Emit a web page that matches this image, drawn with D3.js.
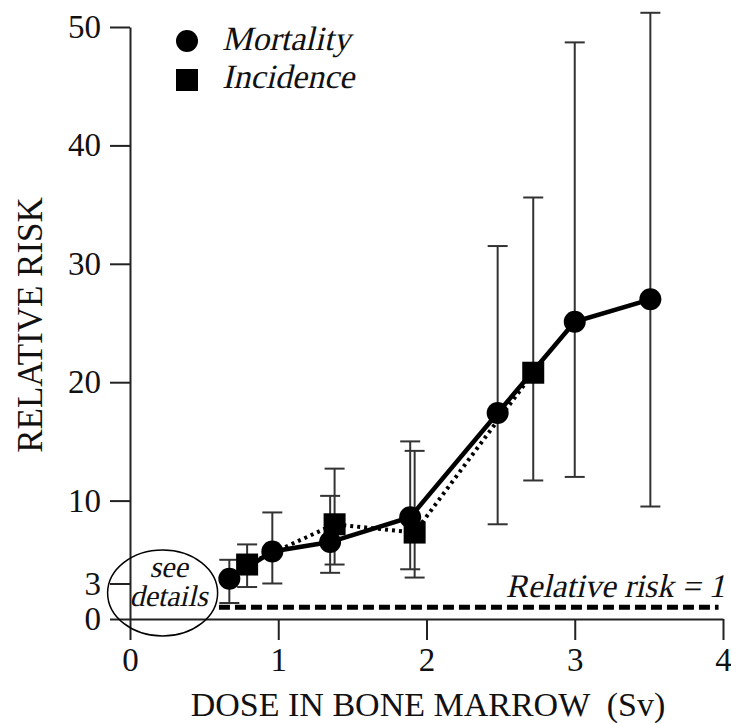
<!DOCTYPE html>
<html>
<head>
<meta charset="utf-8">
<script src="https://cdn.jsdelivr.net/npm/d3@7"></script>
<style>
  body { margin: 0; background: #fff; }
  svg { display: block; }
  text { font-family: "Liberation Serif", "DejaVu Serif", serif; fill: #111; }
</style>
</head>
<body>
<div id="chart"></div>
<script>
// Data ==================================================================
var mortDose = [0.67, 0.96, 1.35, 1.89, 2.48, 3.0, 3.51];
var mortRR   = [3.4, 5.7, 6.5, 8.6, 17.4, 25.1, 27.0];
var mortLo   = [1.35, 3.0, 3.9, 4.2, 8.0, 12.0, 9.5];
var mortHi   = [5.0, 9.0, 10.4, 15.0, 31.5, 48.7, 51.2];

var incDose = [0.79, 1.38, 1.92, 2.72];
var incRR   = [4.6, 8.0, 7.3, 20.8];
var incLo   = [2.7, 4.6, 3.5, 11.7];
var incHi   = [6.3, 12.7, 14.2, 35.6];

var xTicks = [0, 1, 2, 3, 4];
var yTicks = [0, 3, 10, 20, 30, 40, 50];

var refDose = [0.6, 3.97];
var refRR = 1;

// Setup =================================================================
var width = 731, height = 723;
var serif = '"Liberation Serif", "DejaVu Serif", serif';

var svg = d3.select("#chart").append("svg")
	.attr("width", width)
	.attr("height", height);

var x = d3.scaleLinear().domain([0, 4]).range([130, 723]);
var y = d3.scaleLinear().domain([0, 50]).range([619, 27]);

// Axes
var yAxis = svg.append("g")
	.attr("transform", "translate(" + x(0) + ",0)")
	.call(d3.axisLeft(y).tickValues(yTicks).tickSize(20).tickSizeOuter(0).tickPadding(9));

var xAxis = svg.append("g")
	.attr("transform", "translate(0," + y(0) + ")")
	.call(d3.axisBottom(x).tickValues(xTicks).tickFormat(d3.format("d")).tickSize(21).tickSizeOuter(0).tickPadding(8));

[yAxis, xAxis].forEach(function (g) {
	g.attr("font-family", serif).attr("font-size", null);
	g.selectAll("path, line").attr("stroke", "#222").attr("stroke-width", 2);
	g.selectAll("text").style("font-size", "33px").attr("fill", "#111");
});

// axis titles
svg.append("text")
	.attr("transform", "translate(42," + 325 + ") rotate(-90)")
	.attr("text-anchor", "middle")
	.attr("font-family", serif)
	.style("font-size", "35px")
	.text("RELATIVE RISK");

svg.append("text")
	.attr("x", 428)
	.attr("y", 716)
	.attr("text-anchor", "middle")
	.attr("font-family", serif)
	.style("font-size", "34px")
	.attr("xml:space", "preserve")
	.text("DOSE IN BONE MARROW  (Sv)");

// italic look: slanted serif text
function slanted(px, py, size, anchor, str) {
	return svg.append("text")
		.attr("transform", "translate(" + px + "," + py + ") skewX(-13)")
		.attr("text-anchor", anchor)
		.attr("font-family", serif)
		.style("font-size", size + "px")
		.text(str);
}

// Reference line (relative risk = 1)
svg.append("line")
	.attr("x1", x(refDose[0])).attr("x2", x(refDose[1]))
	.attr("y1", y(refRR)).attr("y2", y(refRR))
	.attr("stroke", "#000")
	.attr("stroke-width", 5)
	.attr("stroke-dasharray", "11,5");

slanted(725, 597, 33, "end", "Relative risk = 1");

// "see details" ellipse
svg.append("ellipse")
	.attr("cx", x(0.22)).attr("cy", y(2.2))
	.attr("rx", 55).attr("ry", 43)
	.attr("fill", "none")
	.attr("stroke", "#000")
	.attr("stroke-width", 1.5);

slanted(x(0.26), 577, 30, "middle", "see");
slanted(x(0.26), 606, 30, "middle", "details");

// Error bars
function errorBars(dose, lo, hi) {
	var g = svg.append("g").attr("stroke", "#333").attr("stroke-width", 2);
	dose.forEach(function (d, i) {
		g.append("line")
			.attr("x1", x(d)).attr("x2", x(d))
			.attr("y1", y(lo[i])).attr("y2", y(hi[i]));
		[lo[i], hi[i]].forEach(function (v) {
			g.append("line")
				.attr("x1", x(d) - 10).attr("x2", x(d) + 10)
				.attr("y1", y(v)).attr("y2", y(v));
		});
	});
}
errorBars(mortDose, mortLo, mortHi);
errorBars(incDose, incLo, incHi);

// Lines
var line = d3.line()
	.x(function (d) { return x(d[0]); })
	.y(function (d) { return y(d[1]); });

svg.append("path")
	.datum(d3.zip(incDose, incRR))
	.attr("d", line)
	.attr("fill", "none")
	.attr("stroke", "#000")
	.attr("stroke-width", 4)
	.attr("stroke-dasharray", "3,4");

svg.append("path")
	.datum(d3.zip(mortDose, mortRR))
	.attr("d", line)
	.attr("fill", "none")
	.attr("stroke", "#000")
	.attr("stroke-width", 4.5);

// Markers
svg.selectAll(".mort").data(d3.zip(mortDose, mortRR)).enter()
	.append("circle")
	.attr("class", "mort")
	.attr("cx", function (d) { return x(d[0]); })
	.attr("cy", function (d) { return y(d[1]); })
	.attr("r", 11)
	.attr("fill", "#000");

svg.selectAll(".inc").data(d3.zip(incDose, incRR)).enter()
	.append("rect")
	.attr("class", "inc")
	.attr("x", function (d) { return x(d[0]) - 11; })
	.attr("y", function (d) { return y(d[1]) - 11; })
	.attr("width", 22)
	.attr("height", 22)
	.attr("fill", "#000");

// Legend
var legend = svg.append("g");
legend.append("circle").attr("cx", 187).attr("cy", 41).attr("r", 11).attr("fill", "#000");
legend.append("rect").attr("x", 176).attr("y", 69).attr("width", 22).attr("height", 22).attr("fill", "#000");
slanted(222, 50, 34, "start", "Mortality");
slanted(222, 88, 34, "start", "Incidence");
</script>
</body>
</html>
